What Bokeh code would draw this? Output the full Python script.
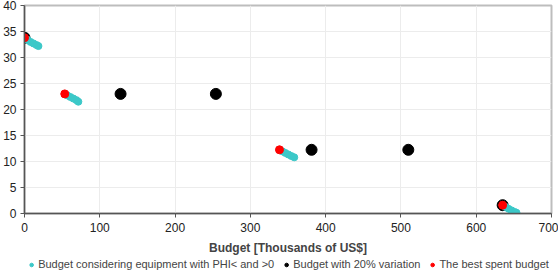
from bokeh.plotting import figure
from bokeh.models import Legend, LegendItem, FixedTicker
from bokeh.layouts import column
from bokeh.embed import file_html
from bokeh.resources import INLINE

# --- data ---
phi_x = [0, 4, 8, 12, 16, 18.5,
         53.5, 57, 61, 65, 69, 71.5,
         338.7, 342.5, 346.5, 350.5, 354.5, 358.3,
         635, 639, 643, 647, 651, 653.5]
phi_y = [33.8, 33.4, 33.0, 32.7, 32.4, 32.2,
         23.0, 22.7, 22.4, 22.1, 21.8, 21.5,
         12.25, 11.95, 11.65, 11.35, 11.05, 10.8,
         1.6, 1.25, 0.9, 0.6, 0.3, 0.15]
var_x = [0, 127.6, 254.2, 381.3, 509.8, 635.1]
var_y = [33.8, 23.0, 23.0, 12.25, 12.25, 1.6]
best_x = [0, 53.5, 338.7, 635.1]
best_y = [33.8, 23.0, 12.25, 1.6]
x_ticks = [0, 100, 200, 300, 400, 500, 600, 700]
y_ticks = [0, 5, 10, 15, 20, 25, 30, 35, 40]
x_title = "Budget [Thousands of US$]"
labels = ["Budget considering equipment with PHI< and >0",
          "Budget with 20% variation", "The best spent budget"]

FONT = "Liberation Sans"
CYAN, BLACK, RED = "#3cc8c8", "black", "#ff0000"

p = figure(width=558, height=257, x_range=(0, 700), y_range=(0, 40),
           output_backend="svg", toolbar_location=None,
           min_border_top=5, min_border_right=7, min_border_left=0, min_border_bottom=0)

p.xaxis.ticker = FixedTicker(ticks=x_ticks)
p.yaxis.ticker = FixedTicker(ticks=y_ticks)
p.xaxis.axis_label = x_title
for ax in (p.xaxis, p.yaxis):
    ax.major_label_text_font = FONT
    ax.major_label_text_font_size = "12px"
    ax.major_label_text_color = "#222222"
    ax.axis_line_color = "#555555"
    ax.axis_line_width = 1.5
    ax.major_tick_line_color = "#555555"
    ax.major_tick_in = 0
    ax.major_tick_out = 4
    ax.minor_tick_line_color = None
p.xaxis.axis_label_text_font = FONT
p.xaxis.axis_label_text_font_size = "12px"
p.xaxis.axis_label_text_font_style = "bold"
p.xaxis.axis_label_standoff = 6
p.xaxis.major_label_standoff = 5
p.yaxis.major_label_standoff = 4

p.xgrid.grid_line_color = "#ececec"
p.ygrid.grid_line_color = "#ececec"
p.outline_line_color = "#bdbdbd"
p.outline_line_width = 2

p.scatter(var_x, var_y, size=11, fill_color=BLACK, line_color=BLACK)
p.scatter(phi_x, phi_y, size=7, fill_color=CYAN, line_color=CYAN)
p.scatter(best_x, best_y, size=8, fill_color=RED, line_color=RED)

# legend strip below the chart (legend glyph renderers sit outside the visible range)
lg = figure(width=558, height=14, x_range=(0, 1), y_range=(0, 1),
            output_backend="svg", toolbar_location=None,
            min_border_top=0, min_border_right=0, min_border_left=0, min_border_bottom=0)
lg.axis.visible = False
lg.grid.grid_line_color = None
lg.outline_line_color = None
l_phi = lg.scatter([-5], [-5], size=7, fill_color=CYAN, line_color=CYAN)
l_var = lg.scatter([-5], [-5], size=8, fill_color=BLACK, line_color=BLACK)
l_best = lg.scatter([-5], [-5], size=7, fill_color=RED, line_color=RED)
legend = Legend(items=[LegendItem(label=labels[0], renderers=[l_phi]),
                       LegendItem(label=labels[1], renderers=[l_var]),
                       LegendItem(label=labels[2], renderers=[l_best])],
                orientation="horizontal", location="center",
                label_text_font=FONT, label_text_font_size="11px",
                label_height=12, glyph_width=9, glyph_height=9,
                label_standoff=3, spacing=7,
                padding=0, margin=0, border_line_color=None,
                background_fill_alpha=0)
lg.add_layout(legend)

open("out.html", "w").write(file_html(column(p, lg, spacing=0), INLINE))
